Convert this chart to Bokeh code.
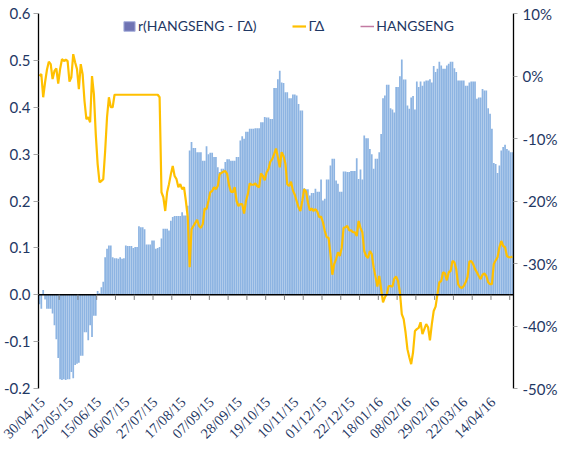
import math
import numpy as np
from bokeh.plotting import figure
from bokeh.models import (Range1d, LinearAxis, NumeralTickFormatter, FixedTicker,
                          Legend, LegendItem, LabelSet, ColumnDataSource)
from bokeh.embed import file_html
from bokeh.resources import INLINE

# r(HANGSENG - GammaDelta) (left axis), one value per trading day
bars = [
    -0.020, -0.030, 0.010, -0.010, -0.030, -0.030, -0.030, -0.040, -0.065, -0.095,
    -0.135, -0.180, -0.182, -0.180, -0.182, -0.180, -0.180, -0.165, -0.178, -0.150,
    -0.147, -0.145, -0.130, -0.130, -0.080, -0.080, -0.097, -0.065, -0.090, -0.045,
    -0.045, 0.008, 0.003, 0.016, 0.028, 0.080, 0.098, 0.105, 0.105, 0.080,
    0.078, 0.078, 0.077, 0.080, 0.077, 0.078, 0.105, 0.104, 0.104, 0.104,
    0.100, 0.102, 0.102, 0.146, 0.144, 0.144, 0.140, 0.107, 0.107, 0.107,
    0.116, 0.116, 0.098, 0.100, 0.102, 0.120, 0.141, 0.141, 0.141, 0.137,
    0.158, 0.166, 0.168, 0.168, 0.168, 0.168, 0.176, 0.169, 0.169, 0.190,
    0.308, 0.326, 0.313, 0.313, 0.304, 0.304, 0.304, 0.286, 0.286, 0.317,
    0.300, 0.303, 0.303, 0.294, 0.294, 0.272, 0.262, 0.269, 0.269, 0.283,
    0.289, 0.289, 0.286, 0.286, 0.286, 0.294, 0.294, 0.329, 0.338, 0.333,
    0.348, 0.348, 0.354, 0.354, 0.354, 0.355, 0.355, 0.355, 0.368, 0.368,
    0.379, 0.378, 0.378, 0.375, 0.375, 0.441, 0.441, 0.460, 0.478, 0.453,
    0.452, 0.432, 0.432, 0.419, 0.419, 0.427, 0.427, 0.425, 0.407, 0.393,
    0.393, 0.227, 0.225, 0.225, 0.212, 0.217, 0.217, 0.226, 0.220, 0.220,
    0.246, 0.201, 0.205, 0.246, 0.246, 0.276, 0.290, 0.290, 0.244, 0.237,
    0.220, 0.220, 0.263, 0.263, 0.262, 0.262, 0.264, 0.264, 0.264, 0.291,
    0.247, 0.267, 0.246, 0.340, 0.334, 0.334, 0.311, 0.300, 0.269, 0.290,
    0.290, 0.304, 0.343, 0.419, 0.425, 0.448, 0.448, 0.398, 0.395, 0.389,
    0.443, 0.443, 0.466, 0.502, 0.459, 0.459, 0.404, 0.397, 0.421, 0.424,
    0.395, 0.455, 0.443, 0.455, 0.446, 0.455, 0.457, 0.457, 0.460, 0.453,
    0.488, 0.475, 0.482, 0.497, 0.489, 0.482, 0.482, 0.489, 0.493, 0.497,
    0.497, 0.483, 0.475, 0.457, 0.457, 0.457, 0.457, 0.446, 0.446, 0.453,
    0.455, 0.455, 0.455, 0.418, 0.421, 0.421, 0.439, 0.436, 0.436, 0.398,
    0.386, 0.354, 0.281, 0.279, 0.260, 0.276, 0.308, 0.315, 0.320, 0.311,
    0.308, 0.304, 0.304,
]

# GammaDelta in percent (right axis)
gamma_pct = [
    0.0, 0.3, -3.4, -1.0, 1.0, 2.3, 1.9, -0.5, 0.8, 1.2,
    -1.2, 1.1, 2.7, 2.4, 2.6, 2.4, -0.9, -0.2, 3.5, 2.2,
    1.1, -2.1, 1.9, 0.3, -4.0, -6.9, -6.6, -7.4, 0.0, -2.9,
    -9.3, -14.1, -17.0, -16.8, -16.5, -12.0, -6.6, -3.4, -5.0, -5.0,
    -3.0, -3.0, -3.0, -3.0, -3.0, -3.0, -3.0, -3.0, -3.0, -3.0,
    -3.0, -3.0, -3.0, -3.0, -3.0, -3.0, -3.0, -3.0, -3.0, -3.0,
    -3.0, -3.0, -3.0, -3.0, -3.4, -18.6, -19.4, -21.6, -18.6, -17.3,
    -15.7, -14.4, -16.0, -16.5, -17.8, -17.3, -18.1, -17.8, -20.0, -22.6,
    -30.6, -24.5, -24.0, -23.5, -23.0, -24.0, -24.3, -23.7, -21.2, -21.3,
    -20.0, -18.6, -18.4, -17.8, -18.1, -17.6, -15.7, -15.5, -15.3, -15.2,
    -15.7, -17.5, -18.5, -18.6, -17.8, -20.0, -20.8, -20.5, -20.5, -22.0,
    -20.0, -18.9, -17.2, -17.4, -17.4, -17.2, -17.6, -17.8, -15.6, -16.0,
    -16.7, -15.4, -14.9, -13.7, -13.3, -12.5, -11.6, -13.0, -14.6, -12.2,
    -12.8, -14.0, -17.3, -17.6, -16.9, -18.3, -19.0, -20.0, -21.0, -21.6,
    -20.0, -18.1, -18.5, -20.2, -21.5, -21.2, -21.6, -21.3, -21.7, -22.6,
    -22.5, -23.4, -24.8, -25.8, -25.9, -28.5, -31.8, -30.1, -29.3, -28.2,
    -28.8, -27.5, -24.3, -24.2, -24.0, -24.7, -24.7, -25.0, -25.0, -25.6,
    -23.2, -24.3, -25.0, -28.0, -28.8, -29.1, -28.0, -28.5, -30.6, -32.1,
    -33.7, -32.0, -34.1, -36.2, -35.4, -34.9, -33.6, -33.6, -33.7, -32.4,
    -32.1, -32.8, -34.6, -38.1, -38.9, -41.0, -43.7, -45.0, -46.1, -44.2,
    -40.8, -40.5, -40.3, -39.4, -41.3, -40.5, -39.7, -40.2, -42.3, -39.7,
    -37.6, -36.9, -34.9, -33.0, -32.8, -31.4, -31.6, -32.7, -31.4, -31.2,
    -29.6, -29.8, -30.9, -33.3, -33.8, -33.9, -33.6, -33.0, -32.2, -29.7,
    -29.6, -30.1, -30.9, -31.4, -32.0, -32.5, -31.8, -31.6, -32.0, -33.0,
    -33.3, -33.3, -30.1, -29.5, -29.0, -27.4, -26.4, -27.2, -27.4, -28.8,
    -29.0, -29.0, -28.9,
]

date_labels = ["30/04/15", "22/05/15", "15/06/15", "06/07/15", "27/07/15", "17/08/15",
               "07/09/15", "28/09/15", "19/10/15", "10/11/15", "01/12/15", "22/12/15",
               "18/01/16", "08/02/16", "29/02/16", "22/03/16", "14/04/16"]

left_ticks = [-0.2, -0.1, 0.0, 0.1, 0.2, 0.3, 0.4, 0.5, 0.6]
right_ticks = [-0.5, -0.4, -0.3, -0.2, -0.1, 0.0, 0.1]

NAVY = "#1F3864"
FONT = "Lato"

# layout (pixels)
W, H = 560, 443
B_TOP, B_BOT = 2, 2
PAD_TOP = 11                 # pixels between the frame top and the highest tick
PLOT_H = 375                 # pixel height of the axis span (top tick to bottom tick)
AX_L, AX_R = 38, 513         # pixel x of the left and right axis lines in the figure
FRAME_H = H - B_TOP - B_BOT

N = len(bars)
idx = list(range(N))
gamma = [v / 100.0 for v in gamma_pct]
label_pos = [1 + 15 * k for k in range(len(date_labels))]
tick_pos = [k - 0.5 for k in range(11, N, 10)]
x_first, x_last = -0.5, N - 0.5

# ranges widened so that axes (at fixed locations) and slanted dates sit inside the frame
l_lo, l_hi = left_ticks[0], left_ticks[-1]
r_lo, r_hi = right_ticks[0], right_ticks[-1]
ppl = PLOT_H / (l_hi - l_lo)
ppr = PLOT_H / (r_hi - r_lo)
left_range = Range1d(l_hi + PAD_TOP / ppl - FRAME_H / ppl, l_hi + PAD_TOP / ppl)
right_range = Range1d(r_hi + PAD_TOP / ppr - FRAME_H / ppr, r_hi + PAD_TOP / ppr)
ppu = (AX_R - AX_L) / (x_last - x_first)
x_range = Range1d(x_first - AX_L / ppu, x_last + (W - AX_R) / ppu)

p = figure(width=W, height=H, x_range=x_range, y_range=left_range,
           x_axis_location=None, output_backend="svg", toolbar_location=None,
           min_border_left=0, min_border_right=0, min_border_top=B_TOP,
           min_border_bottom=B_BOT)
p.extra_y_ranges = {"pct": right_range}
p.outline_line_color = None
p.xgrid.visible = False
p.ygrid.visible = False
p.background_fill_color = "white"

# left axis
ya = p.yaxis[0]
ya.fixed_location = x_first
ya.ticker = FixedTicker(ticks=left_ticks)
ya.bounds = (l_lo, l_hi)
ya.formatter = NumeralTickFormatter(format="0.0")
ya.axis_line_color = "black"
ya.axis_line_width = 1.3
ya.major_tick_line_color = "#A6A6A6"
ya.major_tick_out = 5
ya.major_tick_in = 0
ya.minor_tick_line_color = None
ya.major_label_text_font = FONT
ya.major_label_text_font_size = "15px"
ya.major_label_text_color = NAVY
ya.major_label_standoff = 3

# right axis
ra = LinearAxis(y_range_name="pct", ticker=FixedTicker(ticks=right_ticks),
                formatter=NumeralTickFormatter(format="0%"), bounds=(r_lo, r_hi),
                fixed_location=x_last)
ra.axis_line_color = "black"
ra.axis_line_width = 1.3
ra.major_tick_line_color = "#A6A6A6"
ra.major_tick_out = 4
ra.major_tick_in = 0
ra.minor_tick_line_color = None
ra.major_label_text_font = FONT
ra.major_label_text_font_size = "15px"
ra.major_label_text_color = NAVY
ra.major_label_standoff = 5
p.add_layout(ra, "right")

bar_r = p.vbar(x=idx, top=bars, bottom=0, width=0.92, fill_color="#8DB4E2", line_color=None)
line_r = p.line(x=idx, y=gamma, y_range_name="pct", line_color="#FFC000", line_width=2.2)

# zero line between the two axes, with category ticks hanging below it
p.segment(x0=[x_first], y0=[0], x1=[x_last], y1=[0], line_color="black", line_width=1.5)
p.segment(x0=tick_pos, y0=[0] * len(tick_pos), x1=tick_pos, y1=[-0.011] * len(tick_pos),
          line_color="#7F7F7F", line_width=1)

# date labels, slanted, below the lowest tick level
lab_src = ColumnDataSource(dict(x=label_pos, y=[l_lo] * len(label_pos), text=date_labels))
p.add_layout(LabelSet(x="x", y="y", text="text", source=lab_src, angle=math.pi / 4,
                      text_align="right", text_baseline="middle", y_offset=-11, x_offset=1,
                      text_font=FONT, text_font_size="14.5px", text_color=NAVY))

# legend swatches (no data of their own)
leg_bar = p.vbar(x=[0], top=[0], bottom=[0], width=0.0, fill_color="#6F73B3",
                 line_color="#A9B2DE")
leg_hs = p.line(x=[0, 1], y=[float("nan"), float("nan")], line_color="#C27AA2", line_width=1.5)

LEG_H = 16
legend = Legend(items=[LegendItem(label="r(HANGSENG - ΓΔ)", renderers=[leg_bar]),
                       LegendItem(label="ΓΔ", renderers=[line_r]),
                       LegendItem(label="HANGSENG", renderers=[leg_hs])],
                orientation="horizontal",
                location=(AX_L + 84, FRAME_H - PAD_TOP - 5 - LEG_H),
                border_line_color=None, background_fill_alpha=0,
                padding=0, margin=0, spacing=36, glyph_width=14, glyph_height=12,
                label_standoff=2, label_height=LEG_H, label_width=10,
                label_text_font=FONT, label_text_font_size="14px", label_text_color=NAVY)
p.add_layout(legend)

open("out.html", "w").write(file_html(p, INLINE))
